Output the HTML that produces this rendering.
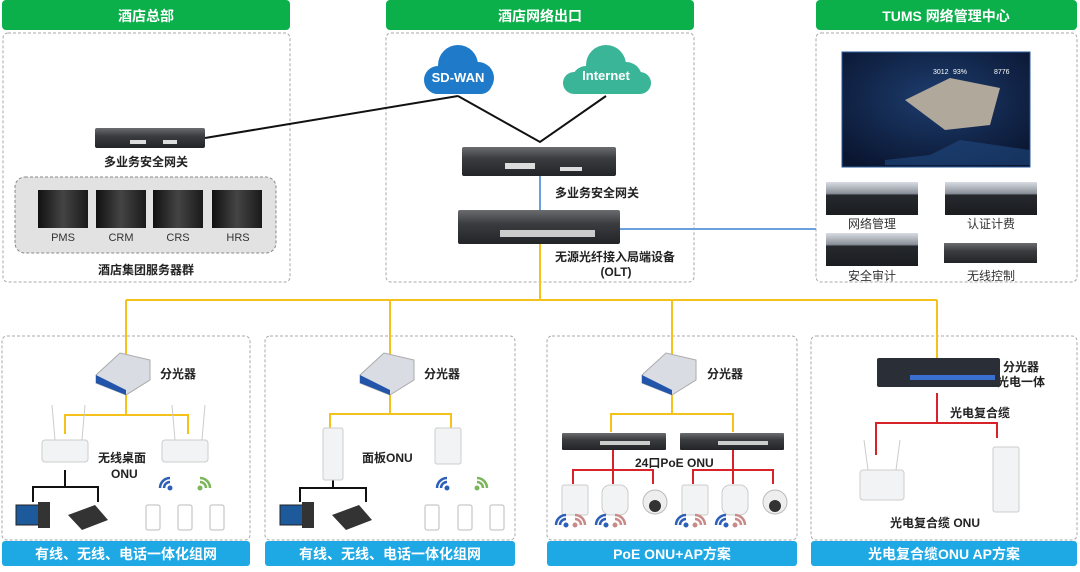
<!DOCTYPE html>
<html><head><meta charset="utf-8"><style>
html,body{margin:0;padding:0;background:#fff;}
svg{display:block;}
text{font-family:"Liberation Sans","Noto Sans CJK SC",sans-serif;}
.b{font-weight:bold;}
</style></head><body>
<svg width="1080" height="572" viewBox="0 0 1080 572" xmlns="http://www.w3.org/2000/svg">
<defs>
<linearGradient id="sw" x1="0" y1="0" x2="0" y2="1"><stop offset="0" stop-color="#6a6c70"/><stop offset="0.4" stop-color="#3a3c40"/><stop offset="1" stop-color="#222428"/></linearGradient>
<linearGradient id="srv" x1="0" y1="0" x2="0" y2="1"><stop offset="0" stop-color="#d8dce2"/><stop offset="0.35" stop-color="#8a9099"/><stop offset="0.4" stop-color="#25282c"/><stop offset="1" stop-color="#1a1c20"/></linearGradient>
<linearGradient id="tw" x1="0" y1="0" x2="1" y2="0"><stop offset="0" stop-color="#111"/><stop offset="0.5" stop-color="#444"/><stop offset="1" stop-color="#1a1a1a"/></linearGradient>
<radialGradient id="scr" cx="0.5" cy="0.4" r="0.7"><stop offset="0" stop-color="#1d3d6e"/><stop offset="1" stop-color="#0a1530"/></radialGradient>
<g id="wifiB"><path d="M10 0 a10 10 0 0 0 -10 10" fill="none" stroke-width="2.5"/><path d="M10 4 a6 6 0 0 0 -6 6" fill="none" stroke-width="2.5"/><circle cx="10" cy="10" r="2"/></g>
</defs>

<!-- header bars -->
<rect x="2" y="0" width="288" height="30" rx="4" fill="#0bb04b"/>
<rect x="386" y="0" width="308" height="30" rx="4" fill="#0bb04b"/>
<rect x="816" y="0" width="261" height="30" rx="4" fill="#0bb04b"/>
<text x="146" y="21" text-anchor="middle" fill="#fff" font-size="14" class="b">酒店总部</text>
<text x="540" y="21" text-anchor="middle" fill="#fff" font-size="14" class="b">酒店网络出口</text>
<text x="946" y="21" text-anchor="middle" fill="#fff" font-size="14" class="b">TUMS 网络管理中心</text>

<!-- top dashed boxes -->
<g fill="none" stroke="#a8a8a8" stroke-dasharray="3,2" stroke-width="1">
<rect x="3" y="33" width="287" height="249" rx="5"/>
<rect x="386" y="33" width="308" height="249" rx="5"/>
<rect x="816" y="33" width="261" height="249" rx="5"/>
<rect x="15" y="177" width="261" height="76" rx="10" fill="#e2e2e2" stroke="#888"/>
<rect x="2" y="336" width="248" height="204" rx="5"/>
<rect x="265" y="336" width="250" height="204" rx="5"/>
<rect x="547" y="336" width="250" height="204" rx="5"/>
<rect x="811" y="336" width="266" height="204" rx="5"/>
</g>

<!-- connectors -->
<g fill="none" stroke-width="2">
<path d="M205 138 L458 96" stroke="#111"/>
<path d="M458 96 L540 142 L606 96" stroke="#111"/>
<path d="M540 176 V210" stroke="#6aa0db"/>
<path d="M620 229 H816" stroke="#6aa0db"/>
<path d="M540 244 V300 M126 300 H937 M126 300 V355 M390 300 V355 M672 300 V355 M937 300 V358" stroke="#f5c21b"/>
<path d="M126 395 V415 M65 434 V415 H188 V434" stroke="#f5c21b"/>
<path d="M390 395 V414 M330 430 V414 H451 V430" stroke="#f5c21b"/>
<path d="M672 395 V414 M611 432 V414 H733 V432" stroke="#f5c21b"/>
<path d="M65 470 V487 M33 502 V487 H98 V502" stroke="#111"/>
<path d="M333 480 V488 M300 502 V488 H366 V502" stroke="#111"/>
<path d="M613 450 V484 M573 484 V470 H653 V484 M733 450 V484 M693 484 V470 H773 V484" stroke="#d8222a"/>
<path d="M937 393 V423 M876 455 V423 H997 V438" stroke="#d8222a"/>
</g>

<!-- HQ gateway -->
<rect x="95" y="128" width="110" height="20" rx="2" fill="url(#sw)"/>
<rect x="130" y="140" width="16" height="4" fill="#ddd"/><rect x="163" y="140" width="14" height="4" fill="#ddd"/>
<text x="146" y="166" text-anchor="middle" font-size="12" class="b" fill="#222">多业务安全网关</text>
<!-- servers -->
<g>
<rect x="38" y="190" width="50" height="38" fill="url(#tw)"/><rect x="96" y="190" width="50" height="38" fill="url(#tw)"/>
<rect x="153" y="190" width="50" height="38" fill="url(#tw)"/><rect x="212" y="190" width="50" height="38" fill="url(#tw)"/>
</g>
<g font-size="11" fill="#333" text-anchor="middle">
<text x="63" y="241">PMS</text><text x="121" y="241">CRM</text><text x="178" y="241">CRS</text><text x="238" y="241">HRS</text>
</g>
<text x="146" y="274" text-anchor="middle" font-size="12" class="b" fill="#222">酒店集团服务器群</text>

<!-- clouds -->
<g fill="#1f7bc9">
<circle cx="458" cy="65" r="20"/><circle cx="438" cy="80" r="14"/><circle cx="478" cy="78" r="16"/><rect x="426" y="72" width="66" height="22" rx="11"/>
</g>
<text x="458" y="82" text-anchor="middle" font-size="13" class="b" fill="#fff">SD-WAN</text>
<g fill="#3bb598">
<circle cx="606" cy="65" r="20"/><circle cx="586" cy="80" r="14"/><circle cx="626" cy="78" r="16"/><rect x="563" y="72" width="88" height="22" rx="11"/>
</g>
<text x="606" y="80" text-anchor="middle" font-size="13" class="b" fill="#fff">Internet</text>

<!-- gateway 2 & OLT -->
<rect x="462" y="147" width="154" height="29" rx="2" fill="url(#sw)"/>
<rect x="505" y="163" width="30" height="6" fill="#ddd"/><rect x="560" y="167" width="22" height="4" fill="#ddd"/>
<text x="555" y="197" font-size="12" class="b" fill="#222">多业务安全网关</text>
<rect x="458" y="210" width="162" height="34" rx="2" fill="url(#sw)"/>
<rect x="500" y="230" width="95" height="7" fill="#ccc"/>
<text x="555" y="261" font-size="12" class="b" fill="#222">无源光纤接入局端设备</text>
<text x="616" y="276" text-anchor="middle" font-size="12" class="b" fill="#222">(OLT)</text>

<!-- TUMS -->
<rect x="842" y="52" width="188" height="115" fill="url(#scr)" stroke="#2a5a9a"/>
<text x="933" y="74" font-size="7" fill="#fff">3012</text><text x="953" y="74" font-size="7" fill="#fff">93%</text><text x="994" y="74" font-size="7" fill="#fff">8776</text>
<path d="M905 100 L950 78 L1000 88 L990 125 L945 130 Z" fill="#b0a89a"/>
<path d="M885 160 L930 155 L960 140 L1030 150 V165 H885Z" fill="#1f4a80" opacity="0.6"/>
<g fill="url(#srv)">
<rect x="826" y="182" width="92" height="33"/><rect x="945" y="182" width="92" height="33"/><rect x="826" y="233" width="92" height="33"/>
</g>
<rect x="944" y="243" width="93" height="20" fill="url(#sw)"/>
<g font-size="12" fill="#333" text-anchor="middle">
<text x="872" y="228">网络管理</text><text x="991" y="228">认证计费</text><text x="872" y="280">安全审计</text><text x="991" y="280">无线控制</text>
</g>

<!-- splitters -->
<g id="spl">
<path d="M96 375 L120 353 L150 360 L150 380 L126 395 L96 383Z" fill="#d9dde3" stroke="#aaa"/>
<path d="M96 375 L126 390 L126 395 L96 383Z" fill="#2255aa"/>
</g>
<use href="#spl" x="264"/><use href="#spl" x="546"/>
<g font-size="12" class="b" fill="#222">
<text x="160" y="378">分光器</text><text x="424" y="378">分光器</text><text x="707" y="378">分光器</text>
<text x="1003" y="371">分光器</text><text x="997" y="386">光电一体</text>
<text x="98" y="462">无线桌面</text><text x="111" y="478">ONU</text>
<text x="362" y="462">面板ONU</text>
<text x="635" y="467">24口PoE ONU</text>
<text x="950" y="417">光电复合缆</text>
<text x="890" y="527">光电复合缆 ONU</text>
</g>

<!-- box1 devices -->
<g fill="#f2f3f5" stroke="#ccc">
<rect x="42" y="440" width="46" height="22" rx="3"/><rect x="162" y="440" width="46" height="22" rx="3"/>
<line x1="55" y1="440" x2="52" y2="405"/><line x1="82" y1="440" x2="85" y2="405"/>
<line x1="175" y1="440" x2="172" y2="405"/><line x1="202" y1="440" x2="205" y2="405"/>
<rect x="323" y="428" width="20" height="52" rx="2"/><rect x="435" y="428" width="26" height="36" rx="2"/>
<rect x="860" y="470" width="44" height="30" rx="3"/><line x1="868" y1="470" x2="864" y2="440"/><line x1="896" y1="470" x2="900" y2="440"/>
<rect x="993" y="447" width="26" height="65" rx="2"/>
<rect x="562" y="485" width="26" height="30" rx="2"/><rect x="602" y="485" width="26" height="30" rx="8"/>
<rect x="682" y="485" width="26" height="30" rx="2"/><rect x="722" y="485" width="26" height="30" rx="8"/>
</g>
<g fill="#333"><circle cx="655" cy="502" r="12" fill="#eee" stroke="#bbb"/><circle cx="655" cy="506" r="6"/><circle cx="775" cy="502" r="12" fill="#eee" stroke="#bbb"/><circle cx="775" cy="506" r="6"/></g>
<!-- pcs/phones -->
<g>
<rect x="16" y="505" width="30" height="20" fill="#1c5a9c" stroke="#222"/><rect x="38" y="502" width="12" height="26" fill="#333"/>
<path d="M68 515 L95 505 L108 520 L82 530Z" fill="#333"/>
<rect x="280" y="505" width="30" height="20" fill="#1c5a9c" stroke="#222"/><rect x="302" y="502" width="12" height="26" fill="#333"/>
<path d="M332 515 L359 505 L372 520 L346 530Z" fill="#333"/>
</g>
<g fill="#fff" stroke="#bbb">
<rect x="146" y="505" width="14" height="25" rx="2"/><rect x="178" y="505" width="14" height="25" rx="2"/><rect x="210" y="505" width="14" height="25" rx="2"/>
<rect x="425" y="505" width="14" height="25" rx="2"/><rect x="458" y="505" width="14" height="25" rx="2"/><rect x="490" y="505" width="14" height="25" rx="2"/>
</g>
<g fill="#2d5fb8" stroke="#2d5fb8"><use href="#wifiB" x="160" y="478"/><use href="#wifiB" x="437" y="478"/>
<use href="#wifiB" x="556" y="515"/><use href="#wifiB" x="596" y="515"/><use href="#wifiB" x="676" y="515"/><use href="#wifiB" x="716" y="515"/></g>
<g fill="#7cb65a" stroke="#7cb65a"><use href="#wifiB" x="215" y="478" transform="translate(425 0) scale(-1 1)"/><use href="#wifiB" x="492" y="478" transform="translate(979 0) scale(-1 1)"/></g>
<g fill="#c98a8a" stroke="#c98a8a"><use href="#wifiB" x="576" y="515" transform="translate(1161 0) scale(-1 1)"/><use href="#wifiB" x="616" y="515" transform="translate(1241 0) scale(-1 1)"/><use href="#wifiB" x="696" y="515" transform="translate(1401 0) scale(-1 1)"/><use href="#wifiB" x="736" y="515" transform="translate(1481 0) scale(-1 1)"/></g>

<!-- PoE switches -->
<rect x="562" y="433" width="104" height="17" rx="1" fill="url(#sw)"/><rect x="680" y="433" width="104" height="17" rx="1" fill="url(#sw)"/>
<rect x="600" y="441" width="50" height="4" fill="#ccc"/><rect x="718" y="441" width="50" height="4" fill="#ccc"/>
<!-- fiber combo -->
<rect x="877" y="358" width="123" height="29" rx="2" fill="#2a2e36"/>
<rect x="910" y="375" width="85" height="5" fill="#3a6fd0"/>

<!-- bottom labels -->
<g fill="#1ea8e4">
<rect x="2" y="541" width="248" height="25" rx="3"/><rect x="265" y="541" width="250" height="25" rx="3"/>
<rect x="547" y="541" width="250" height="25" rx="3"/><rect x="811" y="541" width="266" height="25" rx="3"/>
</g>
<g font-size="14" class="b" fill="#fff" text-anchor="middle">
<text x="126" y="559">有线、无线、电话一体化组网</text><text x="390" y="559">有线、无线、电话一体化组网</text>
<text x="672" y="559">PoE ONU+AP方案</text><text x="944" y="559">光电复合缆ONU AP方案</text>
</g>
</svg>
</body></html>
